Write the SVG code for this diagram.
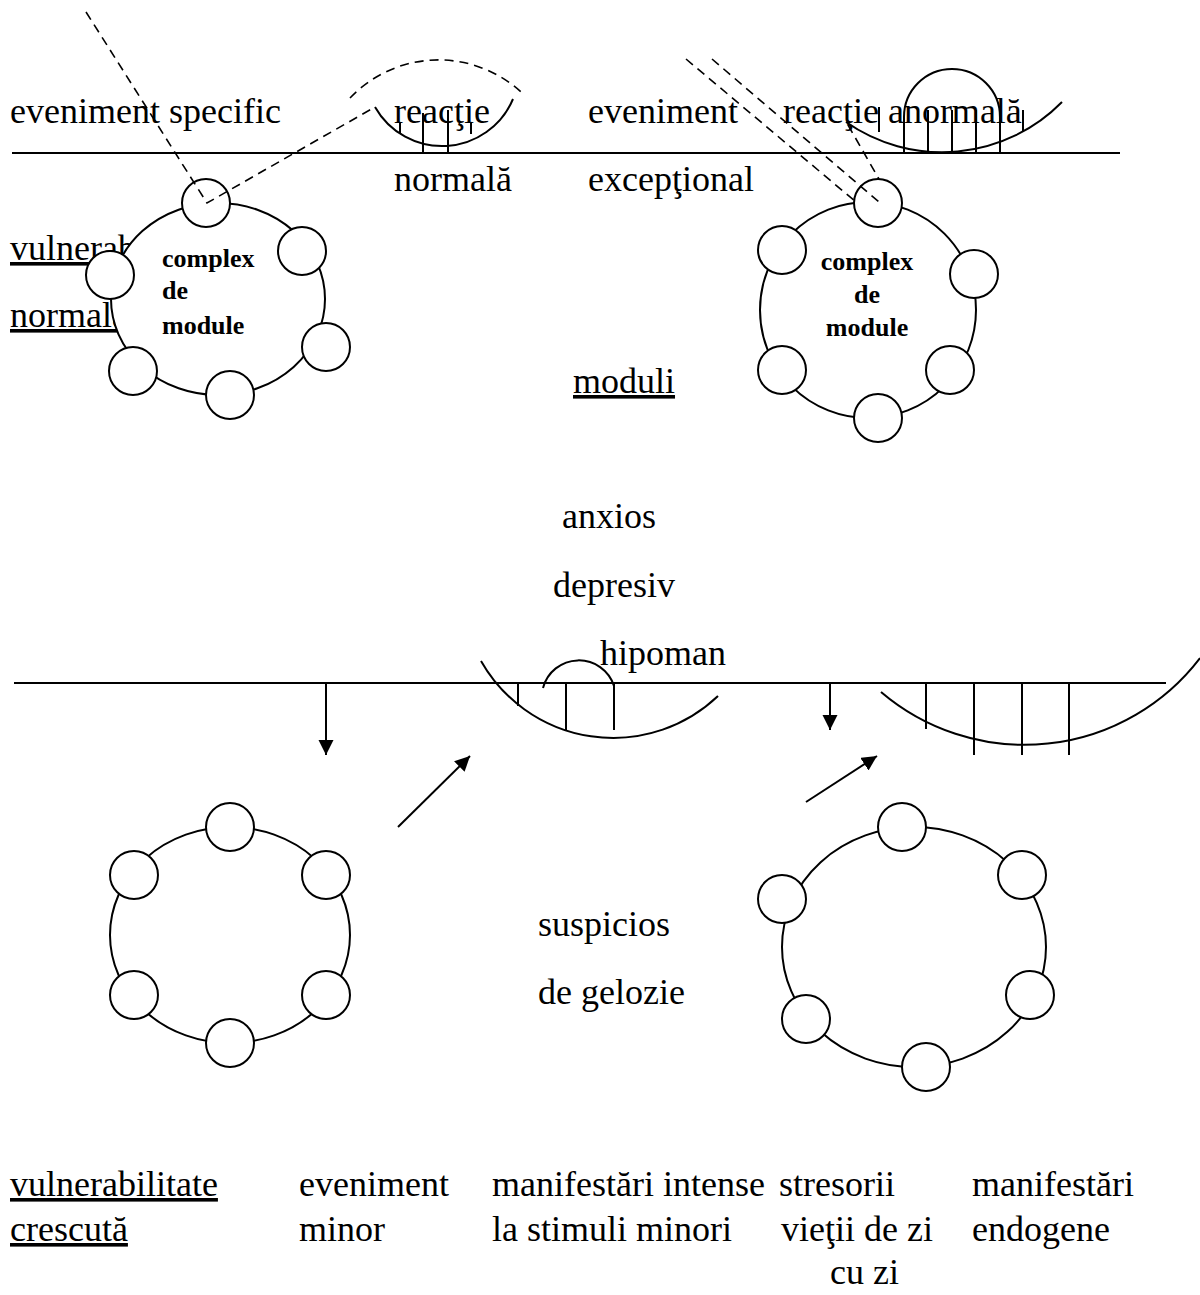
<svg xmlns="http://www.w3.org/2000/svg" width="1200" height="1295" viewBox="0 0 1200 1295">
  <style>
    text { font-family: "Liberation Serif", "Times New Roman", serif; font-size: 36px; fill: #000; }
    .u { text-decoration: underline; }
    .b { font-weight: bold; font-size: 26px; }
    .c { text-anchor: middle; }
    .ln { stroke: #000; stroke-width: 2; fill: none; }
    .ds { stroke: #000; stroke-width: 1.6; fill: none; stroke-dasharray: 9 6; }
    .ring { stroke: #000; stroke-width: 2; fill: #fff; }
    .mod { stroke: #000; stroke-width: 2; fill: #fff; }
    .arr { stroke: #000; stroke-width: 2; fill: none; marker-end: url(#head); }
  </style>
  <defs>
    <marker id="head" markerUnits="userSpaceOnUse" markerWidth="16" markerHeight="16" refX="15" refY="7.5" orient="auto">
      <path d="M0,0 L15,7.5 L0,15 z" fill="#000"/>
    </marker>
  </defs>
  <rect width="1200" height="1295" fill="#fff"/>

  <!-- labels -->
  <g id="labels">
    <text x="10" y="123">eveniment specific</text>
    <text x="394" y="123">reacţie</text>
    <text x="394" y="191">normală</text>
    <text x="588" y="123">eveniment</text>
    <text x="588" y="191">excepţional</text>
    <text x="783" y="123">reacţie anormală</text>
    <text x="10" y="260" class="u">vulnerabil</text>
    <text x="10" y="327" class="u">normală</text>
    <text x="573" y="393" class="u">moduli</text>
    <text x="562" y="528">anxios</text>
    <text x="553" y="597">depresiv</text>
    <text x="600" y="665">hipoman</text>
    <text x="538" y="936">suspicios</text>
    <text x="538" y="1004">de gelozie</text>
    <text x="10" y="1196" class="u">vulnerabilitate</text>
    <text x="10" y="1241" class="u">crescută</text>
    <text x="299" y="1196">eveniment</text>
    <text x="299" y="1241">minor</text>
    <text x="492" y="1196">manifestări intense</text>
    <text x="492" y="1241">la stimuli minori</text>
    <text x="779" y="1196">stresorii</text>
    <text x="781" y="1241">vieţii de zi</text>
    <text x="830" y="1284">cu zi</text>
    <text x="972" y="1196">manifestări</text>
    <text x="972" y="1241">endogene</text>
  </g>

  <!-- baselines, reaction curves and arrows -->
  <g id="connectors">
    <line class="ln" x1="12" y1="153" x2="1120" y2="153"/>
    <line class="ln" x1="14" y1="683" x2="1166" y2="683"/>

    <!-- normal reaction, top left -->
    <path class="ds" d="M350,98 A122,122 0 0 1 521,92"/>
    <path class="ln" d="M375,107 A77,77 0 0 0 513,99"/>
    <line class="ln" x1="400" y1="122" x2="400" y2="133"/>
    <line class="ln" x1="423" y1="113" x2="423" y2="153"/>
    <line class="ln" x1="448" y1="110" x2="448" y2="153"/>
    <line class="ln" x1="471" y1="122" x2="471" y2="134"/>

    <!-- abnormal reaction, top right -->
    <path class="ln" d="M846,122 A168,168 0 0 0 1062,102"/>
    <path class="ln" d="M904,117 A48,48 0 0 1 1000,117"/>
    <line class="ln" x1="879" y1="107" x2="879" y2="132"/>
    <line class="ln" x1="904" y1="117" x2="904" y2="153"/>
    <line class="ln" x1="928" y1="110" x2="928" y2="153"/>
    <line class="ln" x1="952" y1="110" x2="952" y2="153"/>
    <line class="ln" x1="976" y1="110" x2="976" y2="153"/>
    <line class="ln" x1="1000" y1="117" x2="1000" y2="153"/>
    <line class="ln" x1="1023" y1="110" x2="1023" y2="132"/>

    <!-- reactions below the lower baseline -->
    <path class="ln" d="M481,661 A152,152 0 0 0 718,696"/>
    <path class="ln" d="M543,688 A37,37 0 0 1 614,686"/>
    <line class="ln" x1="518" y1="683" x2="518" y2="706"/>
    <line class="ln" x1="566" y1="683" x2="566" y2="730"/>
    <line class="ln" x1="614" y1="683" x2="614" y2="730"/>

    <path class="ln" d="M881,692 A221,221 0 0 0 1200,658"/>
    <line class="ln" x1="926" y1="683" x2="926" y2="729"/>
    <line class="ln" x1="974" y1="683" x2="974" y2="755"/>
    <line class="ln" x1="1022" y1="683" x2="1022" y2="755"/>
    <line class="ln" x1="1069" y1="683" x2="1069" y2="755"/>

    <line class="arr" x1="326" y1="683" x2="326" y2="755"/>
    <line class="arr" x1="830" y1="683" x2="830" y2="730"/>
    <line class="arr" x1="398" y1="827" x2="470" y2="756"/>
    <line class="arr" x1="806" y1="802" x2="877" y2="756"/>
  </g>

  <!-- module complex, normal vulnerability -->
  <g id="complex-left">
    <ellipse class="ring" cx="218" cy="299" rx="107" ry="96"/>
    <circle class="mod" cx="206" cy="203" r="24"/>
    <circle class="mod" cx="302" cy="251" r="24"/>
    <circle class="mod" cx="110" cy="275" r="24"/>
    <circle class="mod" cx="326" cy="347" r="24"/>
    <circle class="mod" cx="133" cy="371" r="24"/>
    <circle class="mod" cx="230" cy="395" r="24"/>
    <text class="b" x="162" y="267">complex</text>
    <text class="b" x="162" y="299">de</text>
    <text class="b" x="162" y="334">module</text>
  </g>

  <!-- module complex, exceptional event -->
  <g id="complex-right">
    <circle class="ring" cx="868" cy="310" r="108"/>
    <circle class="mod" cx="878" cy="203" r="24"/>
    <circle class="mod" cx="782" cy="250" r="24"/>
    <circle class="mod" cx="974" cy="274" r="24"/>
    <circle class="mod" cx="782" cy="370" r="24"/>
    <circle class="mod" cx="950" cy="370" r="24"/>
    <circle class="mod" cx="878" cy="418" r="24"/>
    <text class="b c" x="867" y="270">complex</text>
    <text class="b c" x="867" y="303">de</text>
    <text class="b c" x="867" y="336">module</text>
  </g>

  <!-- module rings, increased vulnerability -->
  <g id="ring-left">
    <ellipse class="ring" cx="230" cy="935" rx="120" ry="108"/>
    <circle class="mod" cx="230" cy="827" r="24"/>
    <circle class="mod" cx="134" cy="875" r="24"/>
    <circle class="mod" cx="326" cy="875" r="24"/>
    <circle class="mod" cx="134" cy="995" r="24"/>
    <circle class="mod" cx="326" cy="995" r="24"/>
    <circle class="mod" cx="230" cy="1043" r="24"/>
  </g>

  <g id="ring-right">
    <ellipse class="ring" cx="914" cy="947" rx="132" ry="120"/>
    <circle class="mod" cx="902" cy="827" r="24"/>
    <circle class="mod" cx="1022" cy="875" r="24"/>
    <circle class="mod" cx="782" cy="899" r="24"/>
    <circle class="mod" cx="1030" cy="995" r="24"/>
    <circle class="mod" cx="806" cy="1019" r="24"/>
    <circle class="mod" cx="926" cy="1067" r="24"/>
  </g>

  <!-- event paths into the modules -->
  <g id="event-paths">
    <polyline class="ds" points="86,12 207,203 375,107"/>
    <line class="ds" x1="686" y1="59" x2="856" y2="202"/>
    <line class="ds" x1="712" y1="59" x2="879" y2="202"/>
    <line class="ds" x1="848" y1="125" x2="879" y2="179"/>
  </g>
</svg>
